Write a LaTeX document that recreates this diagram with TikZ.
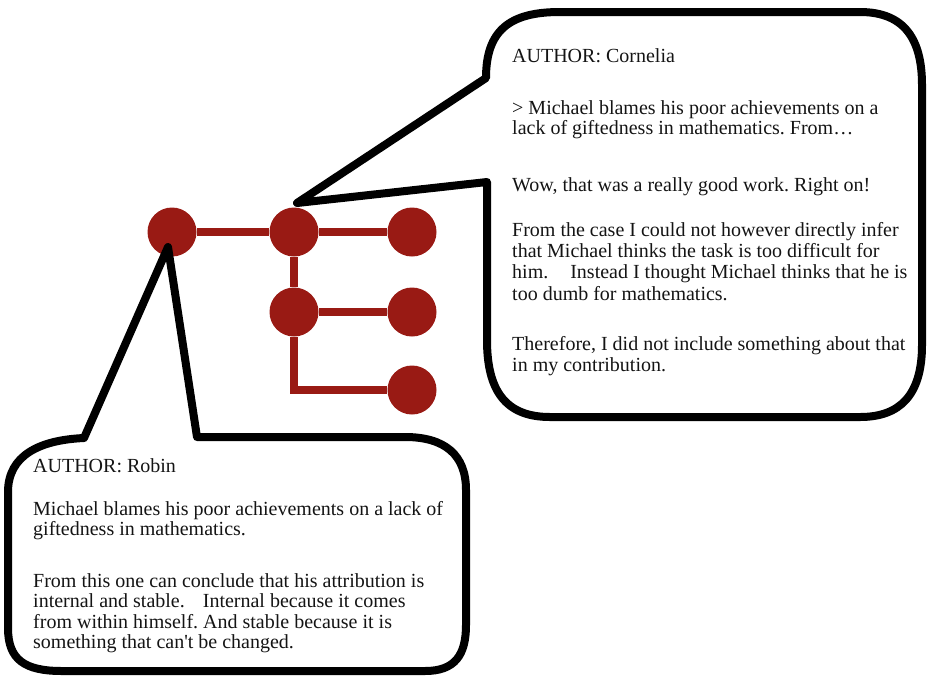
\documentclass[tikz,border=0pt]{standalone}
\usepackage{fontspec}
\setmainfont{Liberation Serif}[Ligatures=TeXOff]
\definecolor{tree}{RGB}{153,26,20}
\definecolor{ink}{RGB}{20,20,20}
\frenchspacing
\begin{document}
\begin{tikzpicture}[x=1pt,y=-1pt,
  dot/.style={circle,fill=tree,minimum size=49pt,inner sep=0pt},
  link/.style={draw=tree,line width=8pt},
  bubble/.style={draw=black,line width=8pt,line join=round},
  txt/.style={anchor=base west,inner sep=0pt,text=ink,font=\fontsize{20}{21}\selectfont}]
\useasboundingbox (0,0) rectangle (928,678);

% tree
\node[dot] (c1) at (172,232) {};
\node[dot] (c2) at (294,232) {};
\node[dot] (c3) at (412,232) {};
\node[dot] (c4) at (294,312) {};
\node[dot] (c5) at (412,312) {};
\node[dot] (c6) at (412,390) {};
\draw[link] (c1) -- (c2);
\draw[link] (c2) -- (c3);
\draw[link] (c2) -- (c4);
\draw[link] (c4) -- (c5);
\draw[link] (c4) |- (c6);

% top bubble
\coordinate (ta) at (297,203);
\draw[bubble] (ta) -- (486,78) .. controls (486,30) and (510,12) .. (560,12)
  -- (860,12) .. controls (905,12) and (922,40) .. (922,85)
  -- (922,345) .. controls (922,395) and (900,417) .. (860,417)
  -- (550,417) .. controls (505,417) and (487,390) .. (487,340)
  -- (487,182) -- cycle;

% bottom bubble
\coordinate (ba) at (168,247);
\draw[bubble] (ba) -- (84,438) .. controls (40,440) and (8,455) .. (8,492)
  -- (8,628) .. controls (8,660) and (25,671) .. (62,671)
  -- (425,671) .. controls (455,671) and (466,655) .. (466,625)
  -- (466,490) .. controls (466,455) and (445,437) .. (405,437)
  -- (197,437) -- cycle;

% top text
\node[txt] (t1) at (512,62) {AUTHOR: Cornelia};
\node[txt] (t2) at (512,114) {> Michael blames his poor achievements on a};
\node[txt] (t3) at (512,134) {lack of giftedness in mathematics. From…};
\node[txt] (t4) at (512,191) {Wow, that was a really good work. Right on!};
\node[txt] (t5) at (512,236) {From the case I could not however directly infer};
\node[txt] (t6) at (512,257) {that Michael thinks the task is too difficult for};
\node[txt] (t7) at (512,278) {him.\hspace{22pt}Instead I thought Michael thinks that he is};
\node[txt] (t8) at (512,300) {too dumb for mathematics.};
\node[txt] (t9) at (512,350) {Therefore, I did not include something about that};
\node[txt] (t10) at (512,371) {in my contribution.};

% bottom text
\node[txt] (b1) at (33,472) {AUTHOR: Robin};
\node[txt] (b2) at (33,515) {Michael blames his poor achievements on a lack of};
\node[txt] (b3) at (33,535) {giftedness in mathematics.};
\node[txt] (b4) at (33,587) {From this one can conclude that his attribution is};
\node[txt] (b5) at (33,607) {internal and stable.\hspace{18pt}Internal because it comes};
\node[txt] (b6) at (33,628) {from within himself. And stable because it is};
\node[txt] (b7) at (33,648) {something that can't be changed.};
\end{tikzpicture}
\end{document}
